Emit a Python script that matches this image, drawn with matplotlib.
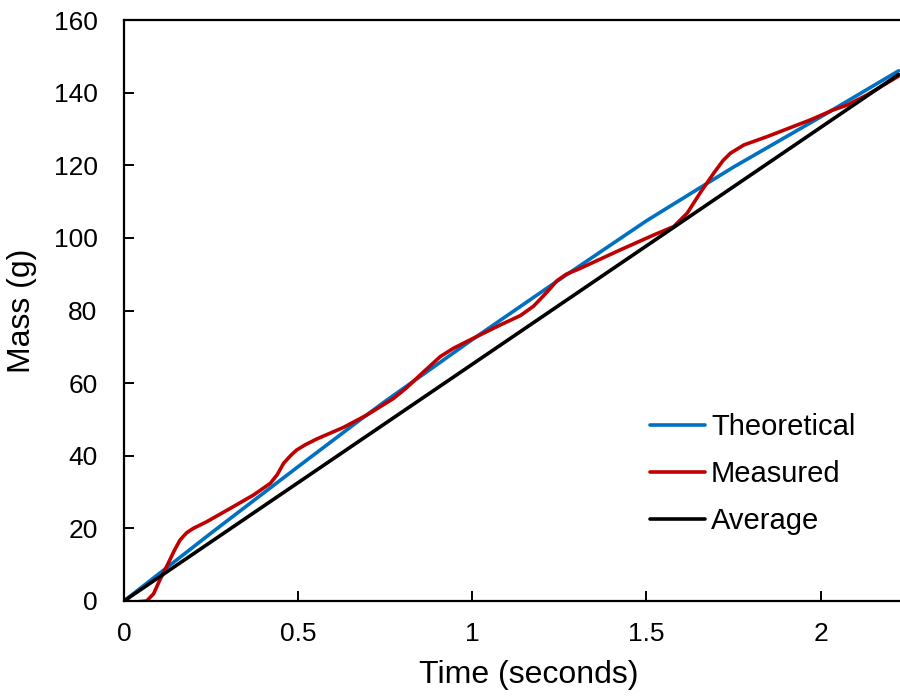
import matplotlib
matplotlib.use("Agg")
import matplotlib.pyplot as plt

# Data
theo_t = [0, 0.25, 0.5, 0.678, 0.75, 1.0, 1.25, 1.5, 1.75, 2.0, 2.224]
theo_m = [0, 18.7, 37.0, 49.9, 55.0, 72.0, 88.5, 104.7, 119.5, 133.3, 146.0]

meas_t = [0, 0.03, 0.065, 0.085, 0.103, 0.127, 0.145, 0.161, 0.18, 0.199, 0.237, 0.305, 0.372, 0.42,
          0.44, 0.458, 0.48, 0.496, 0.52, 0.553, 0.63, 0.697, 0.774, 0.81, 0.851, 0.908, 0.946, 1.004, 1.08,
          1.138, 1.176, 1.2, 1.224, 1.243, 1.27, 1.31, 1.425, 1.521, 1.578, 1.617, 1.655, 1.693,
          1.72, 1.741, 1.78, 1.847, 1.971, 2.038, 2.077, 2.134, 2.230]
meas_m = [0, -0.3, 0, 2.0, 5.8, 10.4, 14.0, 16.8, 18.8, 20.0, 21.8, 25.5, 29.2, 32.4,
          34.8, 37.9, 40.2, 41.6, 43.0, 44.6, 47.8, 51.2, 55.8, 58.6, 62.3, 67.3, 69.6, 72.4, 76.0,
          78.6, 81.2, 83.6, 86.1, 88.2, 90.0, 91.6, 96.7, 100.8, 103.1, 106.8, 112.5, 117.8,
          121.3, 123.3, 125.6, 127.9, 132.5, 135.3, 136.6, 139.4, 144.9]

avg_t = [0, 2.224]
avg_m = [0, 145.0]

series_labels = ["Theoretical", "Measured", "Average"]
series_colors = ["#0070C0", "#C00000", "#000000"]

xticks = [0, 0.5, 1, 1.5, 2]
xtick_labels = ["0", "0.5", "1", "1.5", "2"]
yticks = [0, 20, 40, 60, 80, 100, 120, 140, 160]

plt.rcParams['font.family'] = ['Liberation Sans', 'DejaVu Sans']

fig = plt.figure(figsize=(9, 7), dpi=100)
ax = fig.add_axes([124/900, 1 - 601/700, (900 - 124)/900, (601 - 20)/700])

lw = 2.6
ax.plot(theo_t, theo_m, color=series_colors[0], lw=lw, label=series_labels[0], solid_capstyle='round', solid_joinstyle='round')
ax.plot(meas_t, meas_m, color=series_colors[1], lw=lw, label=series_labels[1], solid_capstyle='round', solid_joinstyle='round')
ax.plot(avg_t, avg_m, color=series_colors[2], lw=lw, label=series_labels[2], solid_capstyle='round', solid_joinstyle='round')

ax.set_xlim(0, 2.228)
ax.set_ylim(0, 160)
ax.set_xticks(xticks)
ax.set_xticklabels(xtick_labels)
ax.set_yticks(yticks)

for s in ['left', 'bottom', 'top']:
    ax.spines[s].set_linewidth(1.6)
    ax.spines[s].set_color('black')
ax.spines['right'].set_visible(False)

ax.tick_params(axis='both', direction='in', length=7, width=1.4, labelsize=19)
ax.tick_params(axis='x', pad=15)
ax.tick_params(axis='y', pad=19)

ax.set_xlabel("Time (seconds)", fontsize=23)
ax.xaxis.set_label_coords((529 - 124)/776, -(660 - 601)/581)
ax.set_ylabel("Mass (g)", fontsize=23, labelpad=12)

leg = ax.legend(loc='upper left', bbox_to_anchor=((644 - 124)/776, 1 - (407 - 20)/581),
                frameon=False, fontsize=21, handlelength=1.9, handletextpad=0.2,
                labelspacing=0.66, borderaxespad=0, borderpad=0.2)

fig.savefig("out.png", dpi=100)
